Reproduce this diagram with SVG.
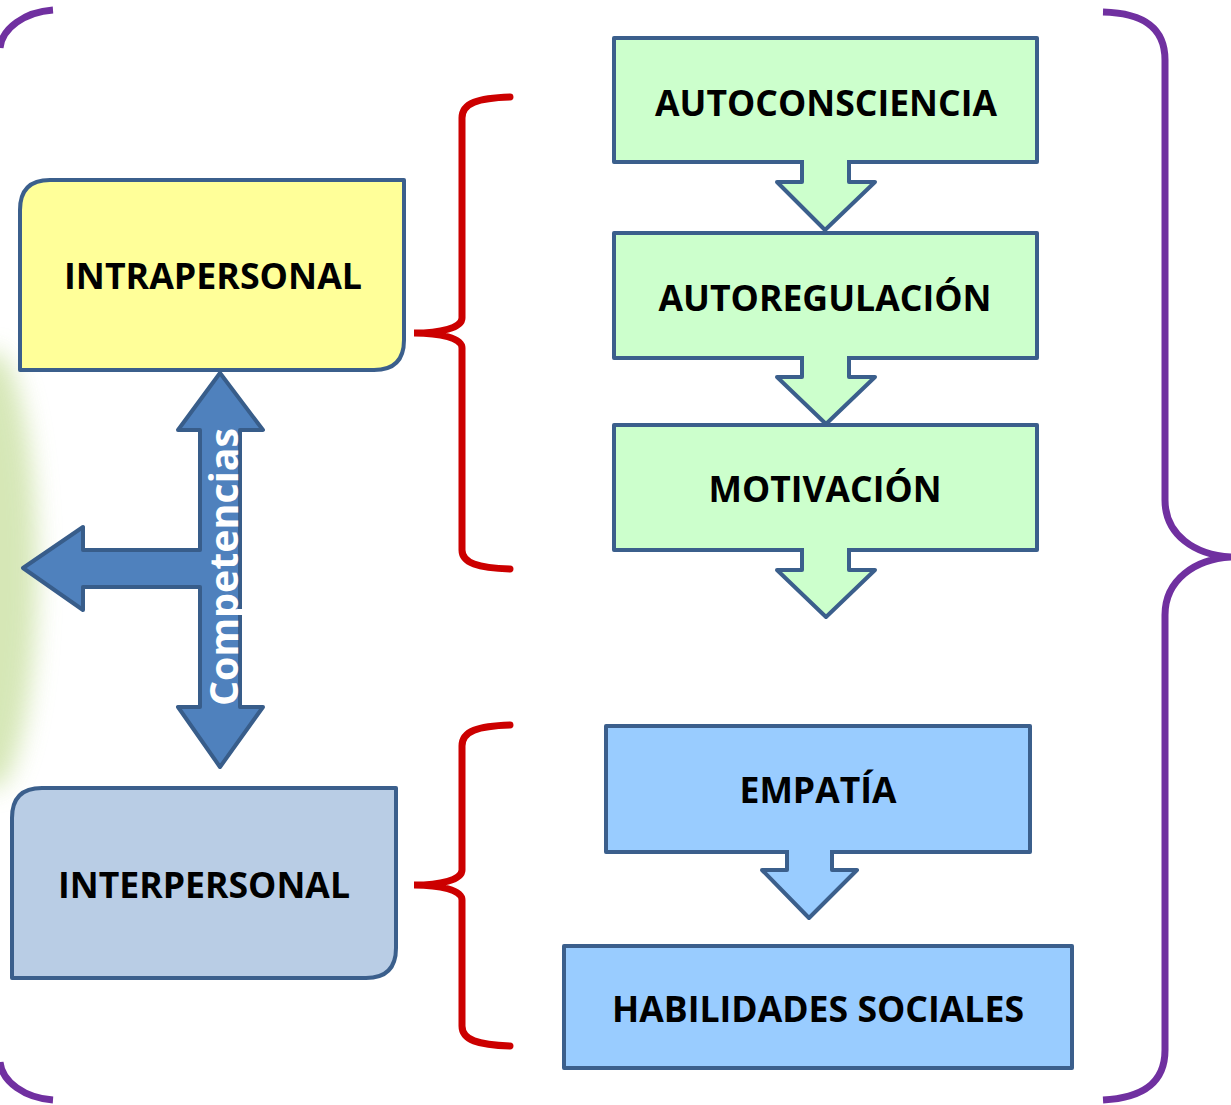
<svg xmlns="http://www.w3.org/2000/svg" width="1231" height="1105" viewBox="0 0 1231 1105">
<style>
.lbl{font-family:"Open Sans","Liberation Sans",sans-serif;font-weight:bold;font-size:35px;fill:#000;text-anchor:middle}
.green{fill:#CCFFCC;stroke:#3B5F8C;stroke-width:4;stroke-linejoin:round}
.blue{fill:#99CCFF;stroke:#3B5F8C;stroke-width:4;stroke-linejoin:round}
.purple{fill:none;stroke:#7030A0;stroke-width:7;stroke-linecap:butt}
.red{fill:none;stroke:#CC0000;stroke-width:7;stroke-linecap:round}
.comp{fill:#4F81BD;stroke:#385D8A;stroke-width:4;stroke-linejoin:round}
</style>
<defs>
<filter id="blur" x="-1" y="-1" width="3" height="3"><feGaussianBlur stdDeviation="12"/></filter>
</defs>
<rect width="1231" height="1105" fill="#fff"/>
<ellipse cx="-8" cy="570" rx="45" ry="220" fill="#CFE3AA" opacity="0.85" filter="url(#blur)"/>

<g id="braces">
<path class="purple" d="M53,10 C25,12 2,28 0,48"/>
<path class="purple" d="M53,1100 C25,1098 2,1082 0,1062"/>
<path class="purple" d="M1103,12 C1140,13 1165,25 1165,60 L1165,500 C1165,535 1195,555 1231,557 C1195,559 1165,580 1165,615 L1165,1050 C1165,1085 1140,1098 1103,1100"/>
<path class="red" d="M510,97 C478,98 462,103 462,118 L462,318 C462,328 440,333 414,333 C440,333 462,338 462,348 L462,550 C462,563 478,568 510,569"/>
<path class="red" d="M510,725 C478,726 462,731 462,746 L462,870 C462,880 440,885 414,885 C440,885 462,890 462,900 L462,1026 C462,1040 478,1045 510,1046"/>
</g>

<g id="intrapersonal">
<path d="M50,180 L404,180 L404,340 Q404,370 374,370 L20,370 L20,210 Q20,180 50,180 Z" fill="#FFFF99" stroke="#3B5F8C" stroke-width="4" stroke-linejoin="round"/>
<text class="lbl" x="213" y="289" textLength="298" lengthAdjust="spacingAndGlyphs">INTRAPERSONAL</text>
</g>

<g id="interpersonal">
<path d="M42,788 L396,788 L396,948 Q396,978 366,978 L12,978 L12,818 Q12,788 42,788 Z" fill="#B9CDE5" stroke="#3B5F8C" stroke-width="4" stroke-linejoin="round"/>
<text class="lbl" x="204" y="898" textLength="292" lengthAdjust="spacingAndGlyphs">INTERPERSONAL</text>
</g>

<g id="autoconsciencia">
<rect class="green" x="614" y="38" width="423" height="124"/>
<text class="lbl" x="826" y="116" textLength="342" lengthAdjust="spacingAndGlyphs">AUTOCONSCIENCIA</text>
</g>
<g id="autorregulacion">
<rect class="green" x="614" y="233" width="423" height="125"/>
<text class="lbl" x="825" y="311" textLength="333" lengthAdjust="spacingAndGlyphs">AUTOREGULACIÓN</text>
</g>
<g id="motivacion">
<rect class="green" x="614" y="425" width="423" height="125"/>
<text class="lbl" x="825" y="502" textLength="233" lengthAdjust="spacingAndGlyphs">MOTIVACIÓN</text>
</g>
<g id="empatia">
<rect class="blue" x="606" y="726" width="424" height="126"/>
<text class="lbl" x="818" y="803" textLength="157" lengthAdjust="spacingAndGlyphs">EMPATÍA</text>
</g>
<g id="habilidades">
<rect class="blue" x="564" y="946" width="508" height="122"/>
<text class="lbl" x="818" y="1022" textLength="412" lengthAdjust="spacingAndGlyphs">HABILIDADES SOCIALES</text>
</g>

<g id="connectors">
<path class="green" d="M802,160 L802,182 L777,182 L825,230 L875,182 L849,182 L849,160"/>
<path class="green" d="M802,356 L802,377 L777,377 L826,424 L875,377 L849,377 L849,356"/>
<path class="green" d="M802,548 L802,570 L777,570 L826,617 L875,570 L849,570 L849,548"/>
<path class="blue" d="M787,850 L787,870 L762,870 L809,918 L857,870 L832,870 L832,850"/>
<g id="competencias">
<path class="comp" d="M220,373 L263,430 L240,430 L240,707 L263,707 L220,767 L178,707 L200,707 L200,587 L83,587 L83,610 L23,568 L83,527 L83,550 L200,550 L200,430 L178,430 Z"/>
<text transform="translate(238,567) rotate(-90)" x="0" y="0" text-anchor="middle" font-family="Open Sans, Liberation Sans, sans-serif" font-weight="bold" font-size="40" fill="#fff" textLength="278" lengthAdjust="spacingAndGlyphs">Competencias</text>
</g>
</g>
</svg>
